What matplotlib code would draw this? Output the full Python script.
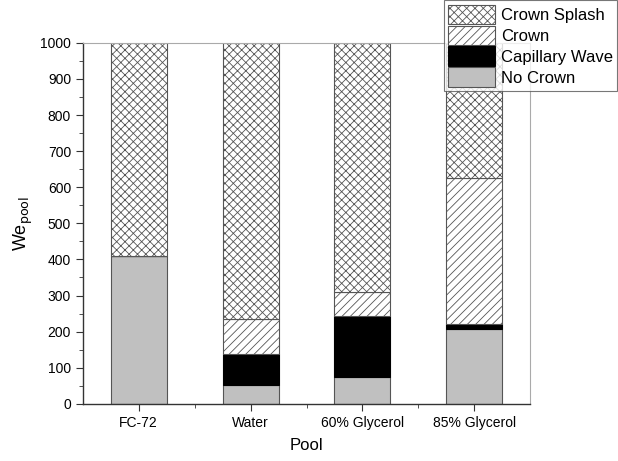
import numpy as np
import matplotlib
matplotlib.use('Agg')
import matplotlib.pyplot as plt
from matplotlib.ticker import MultipleLocator, FixedLocator

plt.rcParams['font.family'] = ['Liberation Sans', 'DejaVu Sans']
plt.rcParams['hatch.linewidth'] = 0.6

pools = ['FC-72', 'Water', '60% Glycerol', '85% Glycerol']
no_crown = [410, 53, 73, 208]
capillary = [0, 85, 169, 12]
crown = [0, 97, 67, 406]
total = 1000

EDGE = '#555555'
GRAY = '#c0c0c0'

x = np.arange(len(pools))
fig = plt.figure(figsize=(6.18, 4.61), dpi=100)
ax = fig.add_axes([0.134, 0.124, 0.724, 0.783])

b1 = np.array(no_crown)
b2 = b1 + np.array(capillary)
b3 = b2 + np.array(crown)
splash = total - b3

w = 0.5
h4 = ax.bar(x, no_crown, w, color=GRAY, edgecolor=EDGE, lw=0.8, label='No Crown')
h3 = ax.bar(x, capillary, w, bottom=b1, color='black', edgecolor='black', lw=0.8, label='Capillary Wave')
h2 = ax.bar(x, crown, w, bottom=b2, color='white', edgecolor=EDGE, hatch='////', lw=0.8, label='Crown')
h1 = ax.bar(x, splash, w, bottom=b3, color='white', edgecolor=EDGE, hatch='xxxx', lw=0.8, label='Crown Splash')

ax.set_xlim(-0.5, 3.5)
ax.set_ylim(0, 1000)
ax.set_xticks(x)
ax.set_xticklabels(pools, fontsize=10)
ax.xaxis.set_minor_locator(FixedLocator([0.5, 1.5, 2.5]))
ax.yaxis.set_major_locator(MultipleLocator(100))
ax.yaxis.set_minor_locator(MultipleLocator(50))
ax.tick_params(axis='both', which='both', direction='out', labelsize=10, color='#333333')
ax.tick_params(which='major', length=5)
ax.tick_params(which='minor', length=3)
for s in ['top', 'right']:
    ax.spines[s].set_color('#aaaaaa')
for s in ['left', 'bottom']:
    ax.spines[s].set_color('#333333')
    ax.spines[s].set_linewidth(1.0)

ax.set_xlabel('Pool', fontsize=12, labelpad=6)
ax.set_ylabel(r'We$_{\rm pool}$', fontsize=13)

leg = fig.legend(handles=[h1, h2, h3, h4], loc='upper right', bbox_to_anchor=(0.999, 0.999),
                 fontsize=12, frameon=True, fancybox=False, edgecolor='#555555',
                 handlelength=2.8, handleheight=1.4, handletextpad=0.4, labelspacing=0.1,
                 borderpad=0.25, borderaxespad=0)
leg.get_frame().set_linewidth(0.8)

fig.savefig('out.png', dpi=100)
